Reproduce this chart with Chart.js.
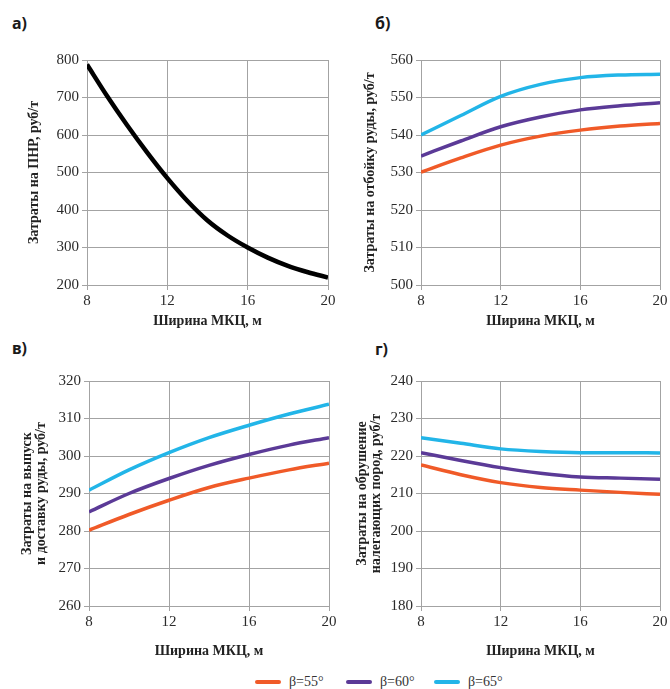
<!DOCTYPE html>
<html>
<head>
<meta charset="utf-8">
<script src="https://cdn.jsdelivr.net/npm/chart.js@4.4.1/dist/chart.umd.min.js"></script>
<style>
  html, body { margin: 0; padding: 0; background: #ffffff; width: 670px; height: 689px; overflow: hidden; }
  canvas { position: absolute; }
  .lbl { position: absolute; font-family: "Noto Sans", "DejaVu Sans", sans-serif; font-weight: bold; font-size: 16px; color: #1a1a1a; line-height: 1; }
  #legend { position: absolute; top: 674px; left: 0; width: 670px; height: 16px; font-family: "Liberation Serif", "DejaVu Serif", serif; font-size: 14px; color: #333; }
  .li { position: absolute; top: 0; height: 16px; line-height: 16px; white-space: nowrap; }
  .sw { display: inline-block; width: 26px; height: 4px; border-radius: 2px; vertical-align: middle; margin-right: 8px; position: relative; top: -1px; }
</style>
</head>
<body>
<div class="lbl" style="left:12px;top:15px;">а)</div>
<div class="lbl" style="left:375px;top:15px;">б)</div>
<div class="lbl" style="left:12px;top:340px;">в)</div>
<div class="lbl" style="left:375px;top:341px;">г)</div>

<canvas id="cA" width="340" height="290" style="left:0px;top:40px;"></canvas>
<canvas id="cB" width="335" height="290" style="left:335px;top:40px;"></canvas>
<canvas id="cC" width="340" height="299" style="left:0px;top:361px;"></canvas>
<canvas id="cD" width="335" height="299" style="left:335px;top:361px;"></canvas>

<div id="legend">
  <div class="li" style="left:255px;"><span class="sw" style="background:#f05a28"></span>β=55°</div>
  <div class="li" style="left:346px;"><span class="sw" style="background:#5b3a97"></span>β=60°</div>
  <div class="li" style="left:434px;"><span class="sw" style="background:#22b5e8"></span>β=65°</div>
</div>

<script>
// ---- data ----
const widthA = [8, 9, 10, 11, 12, 13, 14, 15, 16, 17, 18, 19, 20];
const costPNR = [788, 704, 626, 553, 485, 424, 372, 332, 300, 273, 251, 234, 220];

const widthBCD = [8, 10, 12, 14, 16, 18, 20];
const otboyka55 = [530.1, 533.9, 537.3, 539.7, 541.3, 542.4, 543.1];
const otboyka60 = [534.4, 538.4, 542.2, 544.8, 546.7, 547.8, 548.6];
const otboyka65 = [540.0, 545.2, 550.3, 553.5, 555.3, 556.0, 556.2];

const vypusk55 = [280.2, 284.4, 288.2, 291.6, 294.1, 296.3, 298.1];
const vypusk60 = [285.1, 290.0, 294.0, 297.5, 300.4, 302.9, 304.9];
const vypusk65 = [290.9, 296.3, 300.9, 304.9, 308.2, 311.2, 313.8];

const obrush55 = [217.6, 215.0, 212.9, 211.6, 210.9, 210.3, 209.8];
const obrush60 = [220.9, 218.8, 216.9, 215.4, 214.4, 214.1, 213.8];
const obrush65 = [224.9, 223.4, 221.9, 221.2, 220.9, 220.9, 220.8];

const xTicks = [8, 12, 16, 20];
const seriesLabels = ['β=55°', 'β=60°', 'β=65°'];
const seriesColors = ['#f05a28', '#5b3a97', '#22b5e8'];

const xTitle = 'Ширина МКЦ, м';
const yTitleA = 'Затраты на ПНР, руб/т';
const yTitleB = 'Затраты на отбойку руды, руб/т';
const yTitleC = ['Затраты на выпуск', 'и доставку руды, руб/т'];
const yTitleD = ['Затраты на обрушение', 'налегающих пород, руб/т'];

// ---- helpers ----
const gridColor = '#a3a3a3';
const tickColor = '#2b2b2b';
const serif = '"Liberation Serif", "Times New Roman", serif';

function pts(xs, ys) { return xs.map((x, i) => ({ x: x, y: ys[i] })); }

function makeChart(id, datasets, yMin, yMax, yStep, yTitle, o) {
  return new Chart(document.getElementById(id), {
    type: 'line',
    data: { datasets: datasets },
    options: {
      responsive: false,
      animation: false,
      layout: { padding: { top: 20, right: o.padRight, left: 0, bottom: 0 } },
      plugins: { legend: { display: false }, tooltip: { enabled: false } },
      elements: { point: { radius: 0 } },
      scales: {
        x: {
          type: 'linear',
          min: 8, max: 20,
          afterBuildTicks: (s) => { s.ticks = xTicks.map(v => ({ value: v })); },
          afterFit: (s) => { s.height = o.xH; },
          grid: { color: gridColor, lineWidth: 1, tickLength: 5, drawTicks: true },
          border: { color: gridColor, width: 1 },
          ticks: { color: tickColor, font: { family: serif, size: 15 }, padding: 2, maxRotation: 0 },
          title: { display: true, text: xTitle, color: '#222', font: { family: serif, size: 14, weight: 'bold' }, padding: { top: 0, bottom: 0 } }
        },
        y: {
          type: 'linear',
          min: yMin, max: yMax,
          ticks: { stepSize: yStep, color: tickColor, font: { family: serif, size: 15 }, padding: 3 },
          afterFit: (s) => { s.width = o.yW; },
          grid: { color: gridColor, lineWidth: 1, tickLength: 5 },
          border: { color: gridColor, width: 1 },
          title: { display: true, text: yTitle, color: '#222', font: { family: serif, size: 14, weight: 'bold', lineHeight: 1.0 }, padding: { top: o.yTitlePad, bottom: 0 } }
        }
      }
    }
  });
}

function three(xs, a, b, c) {
  return [a, b, c].map((arr, i) => ({
    label: seriesLabels[i],
    data: pts(xs, arr),
    borderColor: seriesColors[i],
    borderWidth: 3.5,
    cubicInterpolationMode: 'monotone',
    fill: false
  }));
}

makeChart('cA', [{
  label: 'ПНР', data: pts(widthA, costPNR), borderColor: '#000000', borderWidth: 4.5,
  cubicInterpolationMode: 'monotone', fill: false
}], 200, 800, 100, yTitleA, { padRight: 12, xH: 45, yW: 87, yTitlePad: 27 });

makeChart('cB', three(widthBCD, otboyka55, otboyka60, otboyka65), 500, 560, 10, yTitleB,
  { padRight: 10, xH: 45, yW: 86, yTitlePad: 28 });

makeChart('cC', three(widthBCD, vypusk55, vypusk60, vypusk65), 260, 320, 10, yTitleC,
  { padRight: 11, xH: 54, yW: 89, yTitlePad: 20 });

makeChart('cD', three(widthBCD, obrush55, obrush60, obrush65), 180, 240, 10, yTitleD,
  { padRight: 10, xH: 54, yW: 86, yTitlePad: 20 });
</script>
</body>
</html>
